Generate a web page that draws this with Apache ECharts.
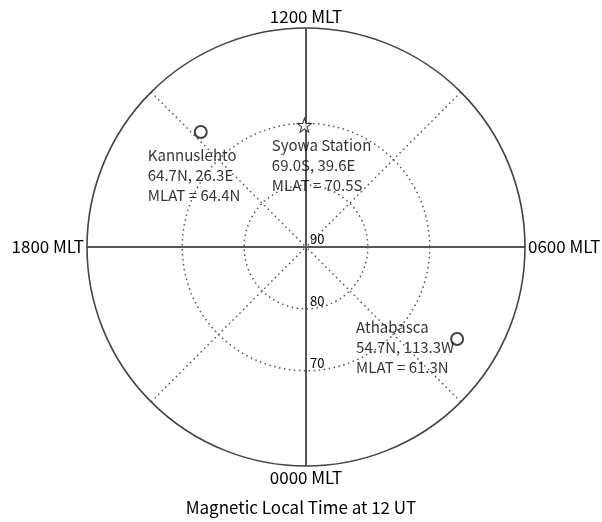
<!DOCTYPE html>
<html>
<head>
<meta charset="utf-8">
<script src="https://cdn.jsdelivr.net/npm/echarts@6/dist/echarts.min.js"></script>
<style>
html, body { margin: 0; padding: 0; background: #fff; }
#chart { width: 602px; height: 522px; }
</style>
</head>
<body>
<div id="chart"></div>
<script>
// MLT hours on the angle axis, colatitude (90 - lat) on the radius axis
const mltTicks = [0, 6, 12, 18];
const mltLabels = ['0000 MLT', '0600 MLT', '1200 MLT', '1800 MLT'];
const latTicks = [0, 10, 20];
const latLabels = ['90', '80', '70'];

const stationNames = ['Kannuslehto', 'Syowa Station', 'Athabasca'];
const stationMlt = [14.83, 12.05, 3.91];
const stationLat = [64.8, 70.3, 61.4];
const stationText = [
    ['Kannuslehto', '64.7N, 26.3E', 'MLAT = 64.4N'],
    ['Syowa Station', '69.0S, 39.6E', 'MLAT = 70.5S'],
    ['Athabasca', '54.7N, 113.3W', 'MLAT = 61.3N']
];
const stationSymbol = ['emptyCircle', 'path://M0,-10 L2.35,-3.24 L9.51,-3.09 L3.8,1.24 L5.88,8.09 L0,4 L-5.88,8.09 L-3.8,1.24 L-9.51,-3.09 L-2.35,-3.24 Z', 'emptyCircle'];

const FONT = '"Noto Sans CJK JP", "Noto Sans", sans-serif';
const center = [306, 247];
const R = 219;
const maxColat = 35.4;

const chart = echarts.init(document.getElementById('chart'));

// label offsets from the symbol box
const labelPos = [[-46, 20], [-25, 18], [-94, -15]];

const option = {
    animation: false,
    title: {
        text: 'Magnetic Local Time at 12 UT',
        left: 'center',
        top: 494,
        textStyle: { fontFamily: FONT, fontWeight: 'normal', fontSize: 17, color: '#000' }
    },
    polar: [
        { center: center, radius: R },
        { center: center, radius: R }
    ],
    angleAxis: [{
        polarIndex: 0,
        type: 'value',
        min: 0,
        max: 24,
        interval: 6,
        startAngle: 270,
        clockwise: false,
        axisLine: { lineStyle: { color: '#444', width: 1.6 } },
        axisTick: { show: false },
        splitLine: { show: true, lineStyle: { color: '#555', width: 2 } },
        axisLabel: {
            margin: 3,
            fontFamily: FONT,
            fontSize: 17,
            color: '#000',
            formatter: function (v) {
                const i = mltTicks.indexOf(v);
                return i >= 0 ? mltLabels[i] : '';
            }
        }
    }, {
        polarIndex: 1,
        type: 'value',
        min: 0,
        max: 24,
        interval: 6,
        startAngle: 315,
        clockwise: false,
        axisLine: { show: false },
        axisTick: { show: false },
        axisLabel: { show: false },
        splitLine: { show: true, lineStyle: { color: '#555', width: 1.5, type: [1.5, 3.5] } }
    }],
    radiusAxis: [{
        polarIndex: 0,
        type: 'value',
        min: 0,
        max: maxColat,
        interval: 10,
        axisLine: { show: false },
        axisTick: { show: false },
        splitLine: {
            show: true,
            lineStyle: {
                color: ['rgba(0,0,0,0)', '#555', '#555', 'rgba(0,0,0,0)', 'rgba(0,0,0,0)'],
                width: 1.5,
                type: [1.5, 3.5]
            }
        },
        axisLabel: {
            margin: 4,
            align: 'left',
            verticalAlign: 'bottom',
            padding: [0, 0, 1, 0],
            fontFamily: FONT,
            fontSize: 13,
            color: '#000',
            formatter: function (v) {
                const i = latTicks.indexOf(v);
                return i >= 0 ? latLabels[i] : '';
            }
        }
    }, {
        polarIndex: 1,
        type: 'value',
        min: 0,
        max: maxColat,
        axisLine: { show: false },
        axisTick: { show: false },
        axisLabel: { show: false },
        splitLine: { show: false }
    }],
    series: [{
        type: 'scatter',
        coordinateSystem: 'polar',
        polarIndex: 0,
        data: stationNames.map(function (n, i) {
            const isStar = stationSymbol[i] !== 'emptyCircle';
            return {
                name: n,
                value: [90 - stationLat[i], stationMlt[i]],
                symbol: stationSymbol[i],
                symbolSize: isStar ? 14 : 12,
                itemStyle: isStar
                    ? { color: '#fff', borderColor: '#111', borderWidth: 1.1 }
                    : { color: '#111', borderWidth: 1 },
                label: { position: labelPos[i] }
            };
        }),
        label: {
            show: true,
            align: 'left',
            fontFamily: FONT,
            fontSize: 15,
            lineHeight: 20,
            color: '#000',
            formatter: function (p) {
                return stationText[p.dataIndex].join('\n');
            }
        }
    }]
};

chart.setOption(option);
</script>
</body>
</html>
